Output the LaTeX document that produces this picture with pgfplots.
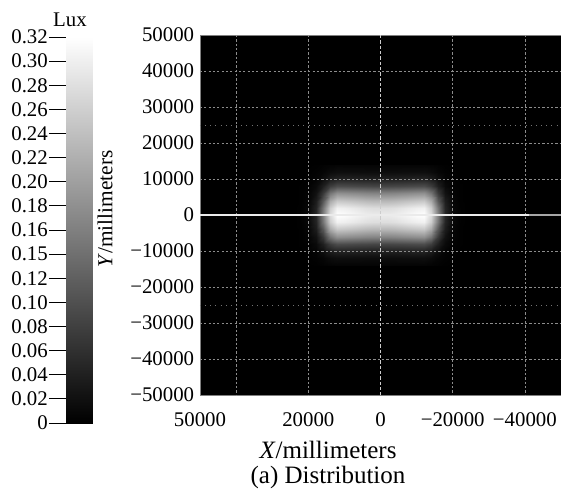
\documentclass[border=0pt]{standalone}
\usepackage{fontspec}
\setmainfont{Liberation Serif}
\usepackage{pgfplots}
\pgfplotsset{compat=1.18}
\pgfplotstableread[row sep=\\]{
x y z\\
-24000 -14000 0\\ -22000 -14000 0\\ -20000 -14000 0\\ -18000 -14000 0.001\\ -16000 -14000 0.003\\ -14000 -14000 0.005\\ -12000 -14000 0.006\\ -10000 -14000 0.006\\ -8000 -14000 0.006\\ -6000 -14000 0.006\\ -4000 -14000 0.006\\ -2000 -14000 0.006\\ 0 -14000 0.006\\ 2000 -14000 0.006\\ 4000 -14000 0.006\\ 6000 -14000 0.006\\ 8000 -14000 0.006\\ 10000 -14000 0.006\\ 12000 -14000 0.006\\ 14000 -14000 0.005\\ 16000 -14000 0.003\\ 18000 -14000 0.001\\ 20000 -14000 0\\ 22000 -14000 0\\ 24000 -14000 0\\
-24000 -12000 0\\ -22000 -12000 0\\ -20000 -12000 0.001\\ -18000 -12000 0.003\\ -16000 -12000 0.007\\ -14000 -12000 0.014\\ -12000 -12000 0.018\\ -10000 -12000 0.017\\ -8000 -12000 0.017\\ -6000 -12000 0.017\\ -4000 -12000 0.016\\ -2000 -12000 0.016\\ 0 -12000 0.016\\ 2000 -12000 0.016\\ 4000 -12000 0.016\\ 6000 -12000 0.017\\ 8000 -12000 0.017\\ 10000 -12000 0.017\\ 12000 -12000 0.018\\ 14000 -12000 0.014\\ 16000 -12000 0.007\\ 18000 -12000 0.003\\ 20000 -12000 0.001\\ 22000 -12000 0\\ 24000 -12000 0\\
-24000 -10000 0\\ -22000 -10000 0\\ -20000 -10000 0.002\\ -18000 -10000 0.006\\ -16000 -10000 0.018\\ -14000 -10000 0.036\\ -12000 -10000 0.044\\ -10000 -10000 0.044\\ -8000 -10000 0.043\\ -6000 -10000 0.042\\ -4000 -10000 0.041\\ -2000 -10000 0.041\\ 0 -10000 0.041\\ 2000 -10000 0.041\\ 4000 -10000 0.041\\ 6000 -10000 0.042\\ 8000 -10000 0.043\\ 10000 -10000 0.044\\ 12000 -10000 0.044\\ 14000 -10000 0.036\\ 16000 -10000 0.018\\ 18000 -10000 0.006\\ 20000 -10000 0.002\\ 22000 -10000 0\\ 24000 -10000 0\\
-24000 -8000 0\\ -22000 -8000 0.001\\ -20000 -8000 0.003\\ -18000 -8000 0.013\\ -16000 -8000 0.039\\ -14000 -8000 0.076\\ -12000 -8000 0.095\\ -10000 -8000 0.094\\ -8000 -8000 0.092\\ -6000 -8000 0.090\\ -4000 -8000 0.089\\ -2000 -8000 0.087\\ 0 -8000 0.087\\ 2000 -8000 0.087\\ 4000 -8000 0.089\\ 6000 -8000 0.090\\ 8000 -8000 0.092\\ 10000 -8000 0.094\\ 12000 -8000 0.095\\ 14000 -8000 0.076\\ 16000 -8000 0.039\\ 18000 -8000 0.013\\ 20000 -8000 0.003\\ 22000 -8000 0.001\\ 24000 -8000 0\\
-24000 -6000 0\\ -22000 -6000 0.001\\ -20000 -6000 0.005\\ -18000 -6000 0.022\\ -16000 -6000 0.071\\ -14000 -6000 0.146\\ -12000 -6000 0.180\\ -10000 -6000 0.178\\ -8000 -6000 0.174\\ -6000 -6000 0.171\\ -4000 -6000 0.167\\ -2000 -6000 0.165\\ 0 -6000 0.165\\ 2000 -6000 0.165\\ 4000 -6000 0.167\\ 6000 -6000 0.171\\ 8000 -6000 0.174\\ 10000 -6000 0.178\\ 12000 -6000 0.180\\ 14000 -6000 0.146\\ 16000 -6000 0.071\\ 18000 -6000 0.022\\ 20000 -6000 0.005\\ 22000 -6000 0.001\\ 24000 -6000 0\\
-24000 -4000 0\\ -22000 -4000 0.001\\ -20000 -4000 0.007\\ -18000 -4000 0.036\\ -16000 -4000 0.111\\ -14000 -4000 0.213\\ -12000 -4000 0.252\\ -10000 -4000 0.249\\ -8000 -4000 0.244\\ -6000 -4000 0.239\\ -4000 -4000 0.234\\ -2000 -4000 0.231\\ 0 -4000 0.231\\ 2000 -4000 0.231\\ 4000 -4000 0.234\\ 6000 -4000 0.239\\ 8000 -4000 0.244\\ 10000 -4000 0.249\\ 12000 -4000 0.252\\ 14000 -4000 0.213\\ 16000 -4000 0.111\\ 18000 -4000 0.036\\ 20000 -4000 0.007\\ 22000 -4000 0.001\\ 24000 -4000 0\\
-24000 -2000 0\\ -22000 -2000 0.002\\ -20000 -2000 0.009\\ -18000 -2000 0.045\\ -16000 -2000 0.147\\ -14000 -2000 0.257\\ -12000 -2000 0.302\\ -10000 -2000 0.299\\ -8000 -2000 0.293\\ -6000 -2000 0.287\\ -4000 -2000 0.281\\ -2000 -2000 0.278\\ 0 -2000 0.278\\ 2000 -2000 0.278\\ 4000 -2000 0.281\\ 6000 -2000 0.287\\ 8000 -2000 0.293\\ 10000 -2000 0.299\\ 12000 -2000 0.302\\ 14000 -2000 0.257\\ 16000 -2000 0.147\\ 18000 -2000 0.045\\ 20000 -2000 0.009\\ 22000 -2000 0.002\\ 24000 -2000 0\\
-24000 0 0\\ -22000 0 0.002\\ -20000 0 0.010\\ -18000 0 0.048\\ -16000 0 0.160\\ -14000 0 0.275\\ -12000 0 0.320\\ -10000 0 0.317\\ -8000 0 0.310\\ -6000 0 0.304\\ -4000 0 0.298\\ -2000 0 0.294\\ 0 0 0.294\\ 2000 0 0.294\\ 4000 0 0.298\\ 6000 0 0.304\\ 8000 0 0.310\\ 10000 0 0.317\\ 12000 0 0.320\\ 14000 0 0.275\\ 16000 0 0.160\\ 18000 0 0.048\\ 20000 0 0.010\\ 22000 0 0.002\\ 24000 0 0\\
-24000 2000 0\\ -22000 2000 0.002\\ -20000 2000 0.009\\ -18000 2000 0.045\\ -16000 2000 0.147\\ -14000 2000 0.257\\ -12000 2000 0.302\\ -10000 2000 0.299\\ -8000 2000 0.293\\ -6000 2000 0.287\\ -4000 2000 0.281\\ -2000 2000 0.278\\ 0 2000 0.278\\ 2000 2000 0.278\\ 4000 2000 0.281\\ 6000 2000 0.287\\ 8000 2000 0.293\\ 10000 2000 0.299\\ 12000 2000 0.302\\ 14000 2000 0.257\\ 16000 2000 0.147\\ 18000 2000 0.045\\ 20000 2000 0.009\\ 22000 2000 0.002\\ 24000 2000 0\\
-24000 4000 0\\ -22000 4000 0.001\\ -20000 4000 0.007\\ -18000 4000 0.036\\ -16000 4000 0.111\\ -14000 4000 0.213\\ -12000 4000 0.252\\ -10000 4000 0.249\\ -8000 4000 0.244\\ -6000 4000 0.239\\ -4000 4000 0.234\\ -2000 4000 0.231\\ 0 4000 0.231\\ 2000 4000 0.231\\ 4000 4000 0.234\\ 6000 4000 0.239\\ 8000 4000 0.244\\ 10000 4000 0.249\\ 12000 4000 0.252\\ 14000 4000 0.213\\ 16000 4000 0.111\\ 18000 4000 0.036\\ 20000 4000 0.007\\ 22000 4000 0.001\\ 24000 4000 0\\
-24000 6000 0\\ -22000 6000 0.001\\ -20000 6000 0.005\\ -18000 6000 0.022\\ -16000 6000 0.071\\ -14000 6000 0.146\\ -12000 6000 0.180\\ -10000 6000 0.178\\ -8000 6000 0.174\\ -6000 6000 0.171\\ -4000 6000 0.167\\ -2000 6000 0.165\\ 0 6000 0.165\\ 2000 6000 0.165\\ 4000 6000 0.167\\ 6000 6000 0.171\\ 8000 6000 0.174\\ 10000 6000 0.178\\ 12000 6000 0.180\\ 14000 6000 0.146\\ 16000 6000 0.071\\ 18000 6000 0.022\\ 20000 6000 0.005\\ 22000 6000 0.001\\ 24000 6000 0\\
-24000 8000 0\\ -22000 8000 0.001\\ -20000 8000 0.003\\ -18000 8000 0.013\\ -16000 8000 0.039\\ -14000 8000 0.076\\ -12000 8000 0.095\\ -10000 8000 0.094\\ -8000 8000 0.092\\ -6000 8000 0.090\\ -4000 8000 0.089\\ -2000 8000 0.087\\ 0 8000 0.087\\ 2000 8000 0.087\\ 4000 8000 0.089\\ 6000 8000 0.090\\ 8000 8000 0.092\\ 10000 8000 0.094\\ 12000 8000 0.095\\ 14000 8000 0.076\\ 16000 8000 0.039\\ 18000 8000 0.013\\ 20000 8000 0.003\\ 22000 8000 0.001\\ 24000 8000 0\\
-24000 10000 0\\ -22000 10000 0\\ -20000 10000 0.002\\ -18000 10000 0.006\\ -16000 10000 0.018\\ -14000 10000 0.036\\ -12000 10000 0.044\\ -10000 10000 0.044\\ -8000 10000 0.043\\ -6000 10000 0.042\\ -4000 10000 0.041\\ -2000 10000 0.041\\ 0 10000 0.041\\ 2000 10000 0.041\\ 4000 10000 0.041\\ 6000 10000 0.042\\ 8000 10000 0.043\\ 10000 10000 0.044\\ 12000 10000 0.044\\ 14000 10000 0.036\\ 16000 10000 0.018\\ 18000 10000 0.006\\ 20000 10000 0.002\\ 22000 10000 0\\ 24000 10000 0\\
-24000 12000 0\\ -22000 12000 0\\ -20000 12000 0.001\\ -18000 12000 0.003\\ -16000 12000 0.007\\ -14000 12000 0.014\\ -12000 12000 0.018\\ -10000 12000 0.017\\ -8000 12000 0.017\\ -6000 12000 0.017\\ -4000 12000 0.016\\ -2000 12000 0.016\\ 0 12000 0.016\\ 2000 12000 0.016\\ 4000 12000 0.016\\ 6000 12000 0.017\\ 8000 12000 0.017\\ 10000 12000 0.017\\ 12000 12000 0.018\\ 14000 12000 0.014\\ 16000 12000 0.007\\ 18000 12000 0.003\\ 20000 12000 0.001\\ 22000 12000 0\\ 24000 12000 0\\
-24000 14000 0\\ -22000 14000 0\\ -20000 14000 0\\ -18000 14000 0.001\\ -16000 14000 0.003\\ -14000 14000 0.005\\ -12000 14000 0.006\\ -10000 14000 0.006\\ -8000 14000 0.006\\ -6000 14000 0.006\\ -4000 14000 0.006\\ -2000 14000 0.006\\ 0 14000 0.006\\ 2000 14000 0.006\\ 4000 14000 0.006\\ 6000 14000 0.006\\ 8000 14000 0.006\\ 10000 14000 0.006\\ 12000 14000 0.006\\ 14000 14000 0.005\\ 16000 14000 0.003\\ 18000 14000 0.001\\ 20000 14000 0\\ 22000 14000 0\\ 24000 14000 0\\
}\lux
\pgfplotstableread[row sep=\\]{
x y m\\
0 0 0\\ 1 0 0\\ 0 0.32 0.32\\ 1 0.32 0.32\\
}\cbar
\begin{document}
\begin{tikzpicture}
\useasboundingbox (0pt,0pt) rectangle (336.6pt,-292.8pt);
\pgfplotsset{
  colormap={bw}{gray(0cm)=(0); gray(1cm)=(1)},
  tickfont/.style={font=\fontsize{12.5}{14}\selectfont},
}
% colour bar
\begin{axis}[at={(39.6pt,-22.2pt)}, anchor=north west, scale only axis,
  width=15.6pt, height=231.6pt,
  xmin=0, xmax=1, ymin=0, ymax=0.32, xtick=\empty,
  ytick={0,0.02,0.04,0.06,0.08,0.10,0.12,0.14,0.16,0.18,0.20,0.22,0.24,0.26,0.28,0.30,0.32},
  yticklabels={0,0.02,0.04,0.06,0.08,0.10,0.12,0.15,0.16,0.18,0.20,0.22,0.24,0.26,0.28,0.30,0.32},
  ytick pos=left,
  tick align=outside, major tick length=10.2pt,
  ytick style={black, line width=0.5pt},
  yticklabel style={tickfont, inner sep=0.5pt},
  axis line style={gray},
  ymajorgrids, major grid style={black, opacity=0.4, line width=0.4pt},
  point meta min=0, point meta max=0.32]
\addplot[surf, shader=interp, mesh/cols=2, point meta=\thisrow{m}] table[x=x, y=y] {\cbar};
\end{axis}
% main map
\begin{axis}[at={(120pt,-21pt)}, anchor=north west, scale only axis,
  width=216.6pt, height=216pt,
  xmin=-50000, xmax=50000, ymin=-50000, ymax=50000, x dir=reverse,
  scaled ticks=false,
  axis background/.style={fill=black},
  axis line style={gray},
  xtick={50000,20000,0,-20000,-40000},
  xticklabels={50000,20000,0,−20000,−40000},
  ytick={-50000,-40000,-30000,-20000,-10000,0,10000,20000,30000,40000,50000},
  yticklabels={−50000,−40000,−30000,−20000,−10000,0,10000,20000,30000,40000,50000},
  major tick length=0pt,
  xticklabel style={tickfont, yshift=-7pt},
  yticklabel style={tickfont},
  point meta min=0, point meta max=0.32]
\addplot[surf, shader=interp, mesh/cols=25, point meta=\thisrow{z}] table[x=x, y=y] {\lux};
% grid lines
\foreach \yy in {-40000,-30000,-20000,-10000,10000,20000,30000,40000}{
  \edef\tmp{\noexpand\draw[black!45, line width=0.45pt, dash pattern=on 1.3pt off 1.3pt] (axis cs:50000,\yy) -- (axis cs:-50000,\yy);}\tmp
}
\foreach \xx in {40000,20000,-20000,-40000}{
  \edef\tmp{\noexpand\draw[black!45, line width=0.45pt, dash pattern=on 1.3pt off 1.3pt] (axis cs:\xx,50000) -- (axis cs:\xx,-50000);}\tmp
}
\draw[black!55, line width=0.5pt, dash pattern=on 0.5pt off 2.6pt] (axis cs:50000,25000) -- (axis cs:-50000,25000);
\draw[black!55, line width=0.5pt, dash pattern=on 0.5pt off 2.6pt] (axis cs:50000,-25000) -- (axis cs:-50000,-25000);
\draw[black!20, line width=0.6pt, dash pattern=on 2pt off 1.2pt] (axis cs:0,50000) -- (axis cs:0,-50000);
\draw[black!8, line width=0.7pt] (axis cs:50000,0) -- (axis cs:-41000,0);
\draw[black!35, line width=0.7pt] (axis cs:-41000,0) -- (axis cs:-50000,0);
\end{axis}
\node[font=\fontsize{12.5}{14}\selectfont] at (42pt,-12pt) {Lux};
\node[rotate=90, font=\fontsize{12.8}{14}\selectfont] at (63pt,-125.4pt) {\textit{Y}/millimeters};
\node[font=\fontsize{15}{17}\selectfont] at (196.8pt,-270pt) {\textit{X}/millimeters};
\node[font=\fontsize{15}{17}\selectfont] at (196.8pt,-286.2pt) {(a) Distribution};
\end{tikzpicture}
\end{document}
